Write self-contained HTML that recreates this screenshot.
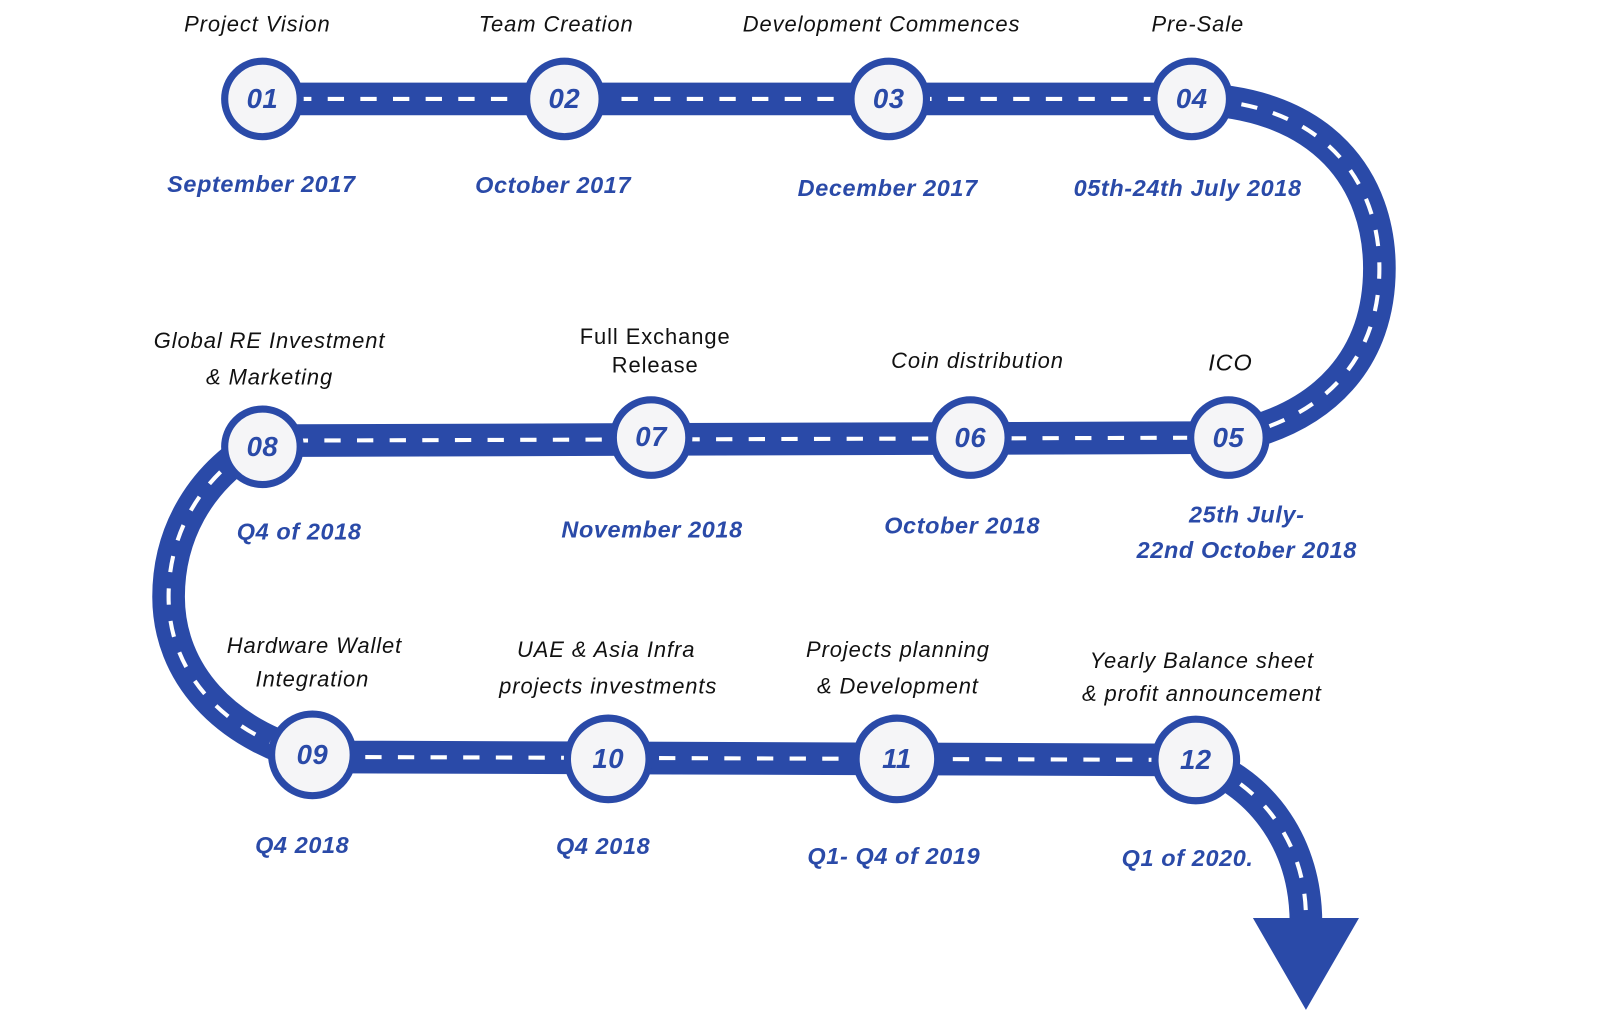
<!DOCTYPE html>
<html><head><meta charset="utf-8"><style>
html,body{margin:0;padding:0;background:#fff;width:1600px;height:1017px;overflow:hidden}
svg{display:block}
.t{font-family:"Liberation Sans",sans-serif;font-style:italic;font-size:21.5px;letter-spacing:0.9px;fill:#111;text-anchor:middle}
.d{font-family:"Liberation Sans",sans-serif;font-style:italic;font-weight:bold;font-size:23px;letter-spacing:0.6px;fill:#2a4aa8;text-anchor:middle}
.n{font-family:"Liberation Sans",sans-serif;font-style:italic;font-weight:bold;font-size:27px;letter-spacing:0.5px;fill:#2a4aa8;text-anchor:middle}
</style></head><body>
<svg width="1600" height="1017" viewBox="0 0 1568 997" xmlns="http://www.w3.org/2000/svg">
<g fill="none" stroke-linecap="butt">
<path d="M257 97 L1168 97 C1300 100 1352 180 1352 263 C1352 350 1300 410 1204 429 L257 432 C190 470 165 530 165 585 C165 660 220 720 306 742 L1172 745 C1240 770 1280 830 1280 905" stroke="#2a4aa8" stroke-width="32"/>
<path d="M257 97 L1168 97 C1300 100 1352 180 1352 263 C1352 350 1300 410 1204 429 L257 432 C190 470 165 530 165 585 C165 660 220 720 306 742 L1172 745 C1240 770 1280 830 1280 900" stroke="#fff" stroke-width="4" stroke-dasharray="16 16"/>
</g>
<polygon points="1228,900 1332,900 1280,990" fill="#2a4aa8"/>
<g fill="#f5f5f7" stroke="#2a4aa8" stroke-width="7">
<circle cx="257" cy="97" r="37"/><circle cx="553" cy="97" r="37"/><circle cx="871" cy="97" r="37"/><circle cx="1168" cy="97" r="37"/>
<circle cx="1204" cy="429" r="37"/><circle cx="951" cy="429" r="37"/><circle cx="638" cy="429" r="37"/><circle cx="257" cy="438" r="37"/>
<circle cx="306" cy="740" r="40"/><circle cx="596" cy="744" r="40"/><circle cx="879" cy="744" r="40"/><circle cx="1172" cy="745" r="40"/>
</g>
<text class="n" x="257" y="106">01</text><text class="n" x="553" y="106">02</text><text class="n" x="871" y="106">03</text><text class="n" x="1168" y="106">04</text>
<text class="n" x="1204" y="438">05</text><text class="n" x="951" y="438">06</text><text class="n" x="638" y="437">07</text><text class="n" x="257" y="447">08</text>
<text class="n" x="306" y="749">09</text><text class="n" x="596" y="753">10</text><text class="n" x="879" y="753">11</text><text class="n" x="1172" y="754">12</text>
<text class="t" x="252" y="31">Project Vision</text>
<text class="t" x="545" y="31">Team Creation</text>
<text class="t" x="864" y="31">Development Commences</text>
<text class="t" x="1174" y="31">Pre-Sale</text>
<text class="d" x="256" y="188">September 2017</text>
<text class="d" x="542" y="189">October 2017</text>
<text class="d" x="870" y="192">December 2017</text>
<text class="d" x="1164" y="192">05th-24th July 2018</text>
<text class="t" x="264" y="341">Global RE Investment</text>
<text class="t" x="264" y="377">&amp; Marketing</text>
<text class="t" x="642" y="337" style="font-style:normal">Full Exchange</text>
<text class="t" x="642" y="365" style="font-style:normal">Release</text>
<text class="t" x="958" y="361">Coin distribution</text>
<text class="t" x="1206" y="363" style="font-size:23px">ICO</text>
<text class="d" x="293" y="529">Q4 of 2018</text>
<text class="d" x="639" y="527">November 2018</text>
<text class="d" x="943" y="523">October 2018</text>
<text class="d" x="1222" y="512">25th July-</text>
<text class="d" x="1222" y="547">22nd October 2018</text>
<text class="t" x="308" y="640">Hardware Wallet</text>
<text class="t" x="306" y="673">Integration</text>
<text class="t" x="594" y="644">UAE &amp; Asia Infra</text>
<text class="t" x="596" y="680">projects investments</text>
<text class="t" x="880" y="644">Projects planning</text>
<text class="t" x="880" y="680">&amp; Development</text>
<text class="t" x="1178" y="655">Yearly Balance sheet</text>
<text class="t" x="1178" y="687">&amp; profit announcement</text>
<text class="d" x="296" y="836">Q4  2018</text>
<text class="d" x="591" y="837">Q4 2018</text>
<text class="d" x="876" y="847">Q1- Q4 of 2019</text>
<text class="d" x="1164" y="849">Q1 of 2020.</text>
</svg>
</body></html>
